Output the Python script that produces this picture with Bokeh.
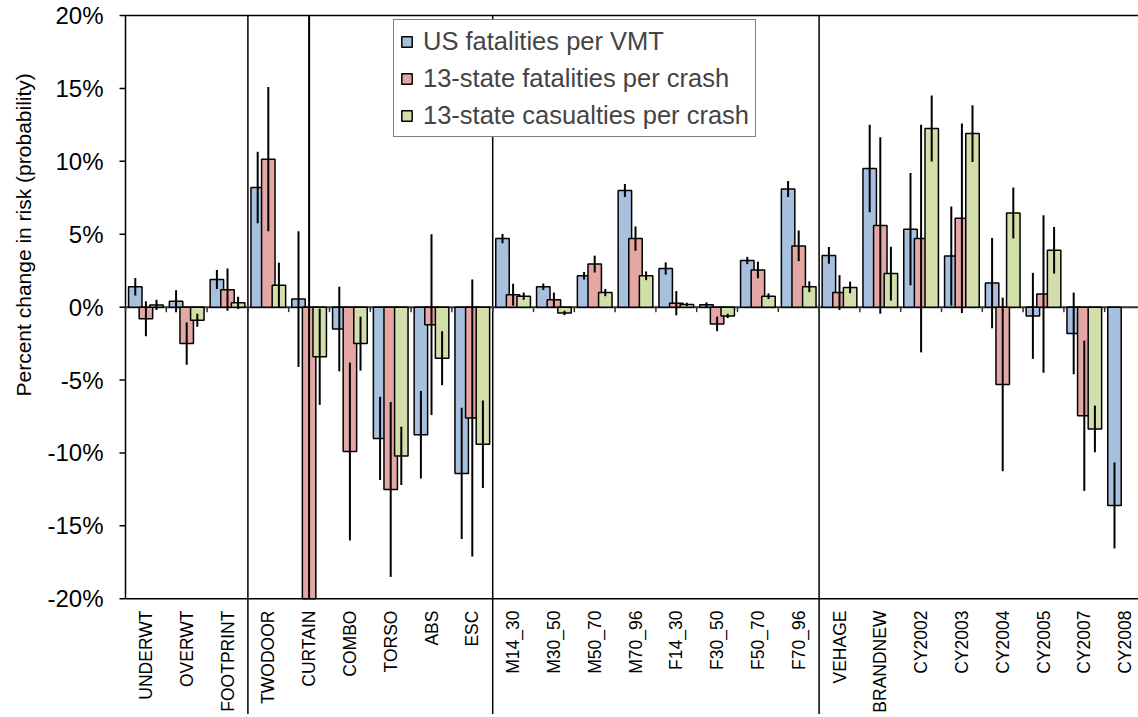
import math
from bokeh.plotting import figure
from bokeh.models import (ColumnDataSource, FixedTicker, Legend, LegendItem,
                          Title, Range1d)
from bokeh.core.properties import value
from bokeh.embed import file_html
from bokeh.resources import INLINE

nan = float("nan")

# ---------------- data ----------------
categories = ["UNDERWT", "OVERWT", "FOOTPRINT",
              "TWODOOR", "CURTAIN", "COMBO", "TORSO", "ABS", "ESC",
              "M14_30", "M30_50", "M50_70", "M70_96", "F14_30", "F30_50", "F50_70", "F70_96",
              "VEHAGE", "BRANDNEW", "CY2002", "CY2003", "CY2004", "CY2005", "CY2007", "CY2008"]
group_sizes = [3, 6, 8, 8]

series_names = ["US fatalities per VMT",
                "13-state fatalities per crash",
                "13-state casualties per crash"]

us_vmt = [1.4, 0.4, 1.9, 8.2, 0.55, -1.5, -9.0, -8.75, -11.4,
          4.7, 1.4, 2.15, 8.0, 2.65, 0.16, 3.2, 8.1,
          3.55, 9.5, 5.35, 3.5, 1.65, -0.6, -1.8, -13.6]
us_vmt_err = [0.6, 0.75, 0.65, 2.45, 4.65, 2.9, 2.85, 3.0, 4.5,
              0.32, 0.22, 0.26, 0.45, 0.42, 0.17, 0.25, 0.55,
              0.57, 3.0, 3.85, 3.4, 3.1, 2.95, 2.8, 2.95]

st_fat = [-0.8, -2.5, 1.2, 10.15, -26.0, -9.9, -12.5, -1.2, -7.6,
          0.85, 0.5, 2.95, 4.7, 0.27, -1.15, 2.55, 4.2,
          1.0, 5.6, 4.7, 6.1, -5.3, 0.9, -7.45, nan]
st_fat_err = [1.2, 1.45, 1.45, 4.95, 47.0, 6.1, 6.0, 6.2, 9.5,
              0.75, 0.5, 0.58, 0.83, 0.83, 0.5, 0.57, 1.05,
              1.2, 6.05, 7.8, 6.5, 5.95, 5.4, 5.15, nan]

st_cas = [0.15, -0.9, 0.3, 1.5, -3.4, -2.5, -10.2, -3.5, -9.4,
          0.75, -0.4, 1.0, 2.15, 0.18, -0.6, 0.75, 1.4,
          1.35, 2.3, 12.25, 11.9, 6.45, 3.9, -8.35, nan]
st_cas_err = [0.35, 0.45, 0.42, 1.55, 3.3, 1.85, 2.0, 1.85, 3.0,
              0.25, 0.15, 0.25, 0.3, 0.12, 0.15, 0.2, 0.37,
              0.4, 1.85, 2.27, 1.95, 1.75, 1.6, 1.6, nan]

y_ticks = [-20, -15, -10, -5, 0, 5, 10, 15, 20]
y_tick_labels = ["-20%", "-15%", "-10%", "-5%", "0%", "5%", "10%", "15%", "20%"]
y_title = "Percent change in risk (probability)"

# ---------------- styling / layout ----------------
colors = ["#A7C0DE", "#E5A7A4", "#D2DFAB"]
offsets = [-0.26, 0.0, 0.26]
bar_w = 0.33
FONT = "Liberation Sans"

W, H = 1138, 714
PX_X = 40.8     # px per category
PX_Y = 14.58    # px per percent
Y_MIN, Y_MAX = y_ticks[0], y_ticks[-1]
FRAME_LEFT, FRAME_TOP = 117, 13
X0_PX, Y20_PX, YM20_PX = 125, 15, 598.3

x_start = -(X0_PX - FRAME_LEFT) / PX_X
x_end = (W - X0_PX) / PX_X
y_end = Y_MAX + (Y20_PX - FRAME_TOP) / PX_Y
y_start = Y_MIN - (H - YM20_PX) / PX_Y
zero_px = Y20_PX + Y_MAX * PX_Y

n = len(categories)

p = figure(width=W, height=H, title=None,
           x_range=Range1d(x_start, x_end), y_range=Range1d(y_start, y_end),
           output_backend="svg", toolbar_location=None,
           x_axis_location=None,
           min_border_left=FRAME_LEFT, min_border_right=0,
           min_border_top=FRAME_TOP, min_border_bottom=0)
p.outline_line_color = None
p.xgrid.visible = False
p.ygrid.visible = False
p.background_fill_color = "white"

yax = p.yaxis[0]
yax.ticker = FixedTicker(ticks=y_ticks)
yax.major_label_overrides = {t: l for t, l in zip(y_ticks, y_tick_labels)}
yax.axis_line_color = None
yax.major_tick_line_color = None
yax.minor_tick_line_color = None
yax.major_tick_out = 0
yax.major_tick_in = 0
yax.major_label_standoff = 14
yax.major_label_text_font = FONT
yax.major_label_text_font_size = "24px"
yax.major_label_text_color = "black"

# y-axis title on the left side; starts at y=396 px and reads upward
p.add_layout(Title(text=y_title, align="left", offset=H - 396,
                   text_font=FONT, text_font_size="21px", text_font_style="normal",
                   text_color="black", standoff=19), "left")

# group separators
bounds = []
acc = 0
for g in group_sizes[:-1]:
    acc += g
    bounds.append(acc)
p.segment(x0=bounds, x1=bounds, y0=[Y_MAX] * len(bounds), y1=[y_start] * len(bounds),
          line_color="black", line_width=1.5)

# frame lines: left axis, top, bottom
p.segment(x0=[0, 0, 0], x1=[0, x_end, x_end], y0=[Y_MIN, Y_MAX, Y_MIN],
          y1=[Y_MAX, Y_MAX, Y_MIN], line_color="black", line_width=1.5)
# y tick marks
p.segment(x0=[-6 / PX_X] * len(y_ticks), x1=[0] * len(y_ticks), y0=y_ticks, y1=y_ticks,
          line_color="black", line_width=1.5)
# zero line with category ticks
xt = list(range(n + 1))
p.segment(x0=xt, x1=xt, y0=[0] * len(xt), y1=[-5 / PX_Y] * len(xt),
          line_color="#333333", line_width=1.5)
p.segment(x0=[0], x1=[x_end], y0=[0], y1=[0], line_color="#333333", line_width=2)


def clip(v):
    if v != v:
        return v
    return max(Y_MIN, min(Y_MAX, v))


legend_items = []
for s, (vals, errs) in enumerate([(us_vmt, us_vmt_err), (st_fat, st_fat_err), (st_cas, st_cas_err)]):
    xs = [i + 0.5 + offsets[s] for i in range(n)]
    src = ColumnDataSource(dict(
        x=xs,
        top=[clip(v) for v in vals],
        lo=[clip(v - e) for v, e in zip(vals, errs)],
        hi=[clip(v + e) for v, e in zip(vals, errs)],
    ))
    r = p.vbar(x="x", width=bar_w, bottom=0, top="top", source=src,
               fill_color=colors[s], line_color="black", line_width=1.5)
    p.segment(x0="x", x1="x", y0="lo", y1="hi", source=src,
              line_color="black", line_width=2)
    legend_items.append(LegendItem(label=series_names[s], renderers=[r]))

# category labels (vertical)
lab_y = (zero_px - 610) / PX_Y
p.text(x=[i + 0.5 for i in range(n)], y=[lab_y] * n, text=categories,
       angle=math.pi / 2, text_align="right", text_baseline="middle",
       text_font=value(FONT), text_font_size="17.5px", text_color="black")

legend = Legend(items=legend_items, location=(393 - FRAME_LEFT, H - 137),
                label_text_font=FONT, label_text_font_size="25.5px",
                glyph_width=13, glyph_height=13, label_standoff=10,
                padding=6, spacing=7, margin=0, label_height=30,
                border_line_color="black", border_line_width=1.5,
                background_fill_color="white", background_fill_alpha=1.0)
p.add_layout(legend)

open("out.html", "w").write(file_html(p, INLINE))
